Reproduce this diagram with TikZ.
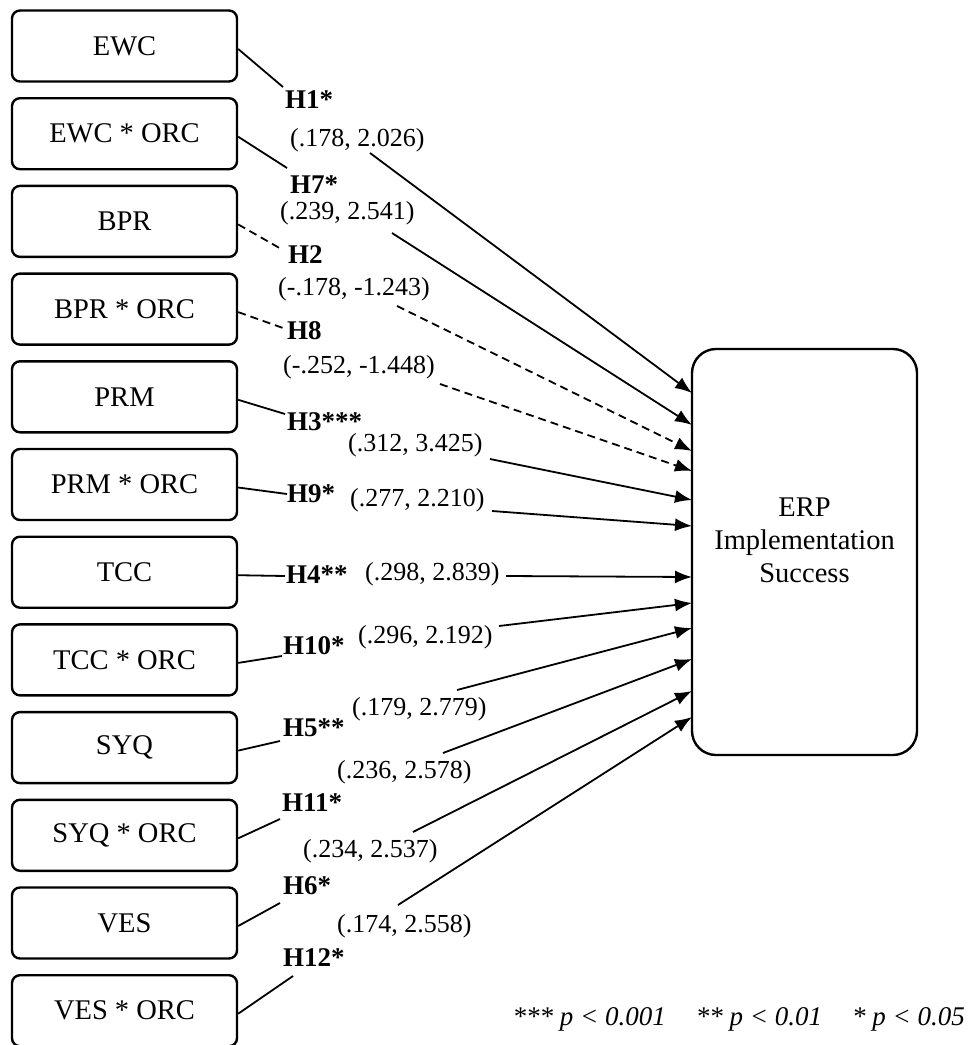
\documentclass[tikz,border=0pt]{standalone}
\usepackage{fontspec}
\setmainfont{Liberation Serif}
\usetikzlibrary{arrows.meta,positioning}

\begin{document}
\begin{tikzpicture}[x=1pt,y=-1pt,
  var/.style={draw,line width=2.4pt,rounded corners=8pt,minimum width=225pt,minimum height=71pt,inner sep=0pt,font=\fontsize{28.5}{33}\selectfont},
  hyp/.style={anchor=west,inner sep=0pt,font=\fontsize{27}{30}\selectfont\bfseries},
  est/.style={anchor=west,inner sep=0pt,font=\fontsize{26}{30}\selectfont},
  sig/.style={line width=1.8pt},
  nsig/.style={sig,dash pattern=on 8pt off 5pt},
  node distance=14.3pt]
\useasboundingbox (0,0) rectangle (972,1045);
% predictors
\node[var] (ewc) at (124.5,46) {EWC};
\node[var,below=of ewc] (ewco) {EWC * ORC};
\node[var,below=of ewco] (bpr) {BPR};
\node[var,below=of bpr] (bpro) {BPR * ORC};
\node[var,below=of bpro] (prm) {PRM};
\node[var,below=of prm] (prmo) {PRM * ORC};
\node[var,below=of prmo] (tcc) {TCC};
\node[var,below=of tcc] (tcco) {TCC * ORC};
\node[var,below=of tcco] (syq) {SYQ};
\node[var,below=of syq] (syqo) {SYQ * ORC};
\node[var,below=of syqo] (ves) {VES};
\node[var,below=of ves] (veso) {VES * ORC};
% outcome
\node[var,minimum height=406pt,rounded corners=24pt] (erp) at (804.5,552) {};
\node[align=center,inner sep=0pt,font=\fontsize{28.5}{33}\selectfont] (erptext) at (804.5,540) {ERP\\Implementation\\Success};
% hypotheses
\node[hyp] (h1) at (285,100) {H1*};
\node[hyp] (h7) at (290,185) {H7*};
\node[hyp] (h2) at (288,255) {H2};
\node[hyp] (h8) at (287,331) {H8};
\node[hyp] (h3) at (287,422) {H3***};
\node[hyp] (h9) at (287,494) {H9*};
\node[hyp] (h4) at (286,575) {H4**};
\node[hyp] (h10) at (283,646) {H10*};
\node[hyp] (h5) at (283,728) {H5**};
\node[hyp] (h11) at (282,803) {H11*};
\node[hyp] (h6) at (283,886) {H6*};
\node[hyp] (h12) at (283,958) {H12*};
% estimates
\node[est] (v1) at (290,140) {(.178, 2.026)};
\node[est] (v7) at (280,213) {(.239, 2.541)};
\node[est] (v2) at (278,289) {(-.178, -1.243)};
\node[est] (v8) at (283,367) {(-.252, -1.448)};
\node[est] (v3) at (348,445) {(.312, 3.425)};
\node[est] (v9) at (350,500) {(.277, 2.210)};
\node[est] (v4) at (365,574) {(.298, 2.839)};
\node[est] (v10) at (358,637) {(.296, 2.192)};
\node[est] (v5) at (352,709) {(.179, 2.779)};
\node[est] (v11) at (337,772) {(.236, 2.578)};
\node[est] (v6) at (303,851) {(.234, 2.537)};
\node[est] (v12) at (337,926) {(.174, 2.558)};
% line breaks round the labels
\foreach \n/\ex/\ey/\sx/\sy/\ty in {1/283/87/370/153/393, 7/287/168/392/233/425, 2/283/250/397/306/451,
  8/283/328/440/384/471, 3/285/414/490/459/500, 9/287/494/492/511/526, 4/285/576/506/576/577,
  10/282/656/499/626/603, 5/280/741/457/690/628, 11/280/819/443/753/659, 6/280/903/413/832/691,
  12/293/976/398/905/717}
{\coordinate (e\n) at (\ex,\ey); \coordinate (s\n) at (\sx,\sy); \coordinate (t\n) at (692,\ty);}
\foreach \x/\n/\s in {ewc/1/sig,ewco/7/sig,bpr/2/nsig,bpro/8/nsig,prm/3/sig,prmo/9/sig,tcc/4/sig,tcco/10/sig,syq/5/sig,syqo/11/sig,ves/6/sig,veso/12/sig}
{\draw[\s] ([yshift=-3pt]\x.east) -- (e\n);
 \draw[\s,-{Latex[length=17pt,width=13pt]}] (s\n) -- (t\n);}
\node[anchor=base east,inner sep=0pt,font=\fontsize{27}{30}\selectfont\itshape] (key) at (965,1025)
  {*** p < 0.001\hspace{30pt}** p < 0.01\hspace{30pt}* p < 0.05};
\end{tikzpicture}
\end{document}
